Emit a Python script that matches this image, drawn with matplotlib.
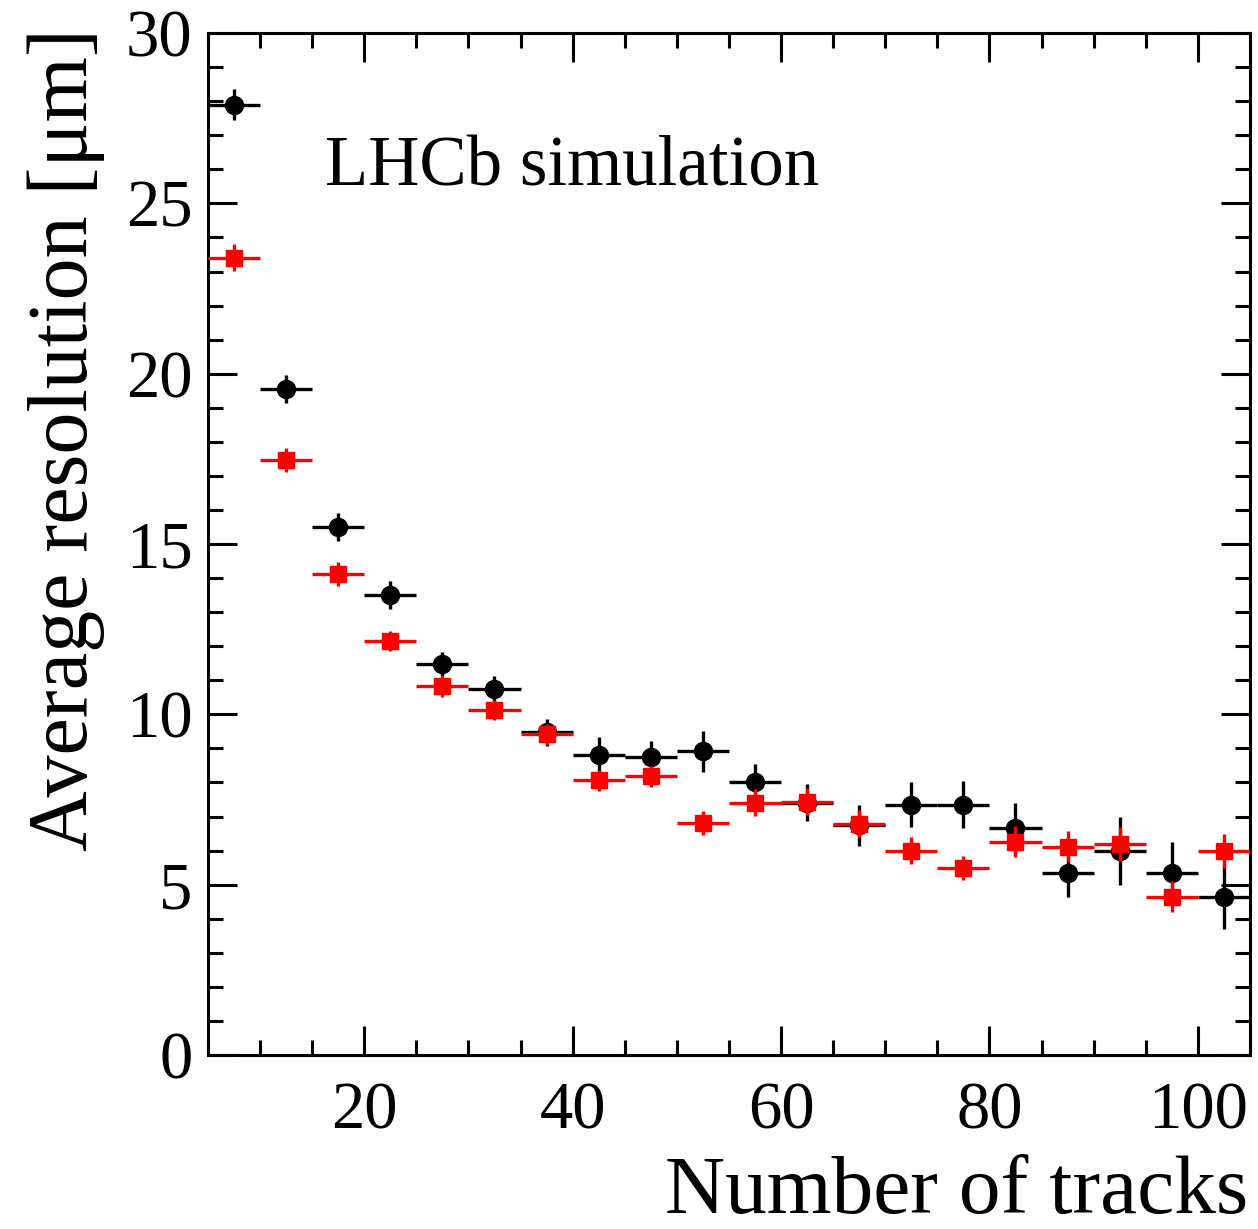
import numpy as np
import matplotlib
matplotlib.use("Agg")
import matplotlib.pyplot as plt
from matplotlib.ticker import MultipleLocator

plt.rcParams['font.family'] = ['Liberation Serif', 'DejaVu Serif']

# bin centres (number of tracks), bin half width 2.5
tracks = [7.5, 12.5, 17.5, 22.5, 27.5, 32.5, 37.5, 42.5, 47.5, 52.5,
          57.5, 62.5, 67.5, 72.5, 77.5, 82.5, 87.5, 92.5, 97.5, 102.5]
half_width = 2.5

# black circles
res_black = [27.9, 19.55, 15.5, 13.5, 11.47, 10.74, 9.47, 8.82, 8.76, 8.91,
             8.0, 7.41, 6.74, 7.35, 7.35, 6.65, 5.35, 6.0, 5.35, 4.65]
err_black = [0.45, 0.4, 0.4, 0.4, 0.35, 0.4, 0.4, 0.5, 0.45, 0.6,
             0.55, 0.55, 0.6, 0.65, 0.7, 0.75, 0.7, 1.0, 0.9, 0.95]

# red squares
res_red = [23.41, 17.47, 14.12, 12.15, 10.82, 10.12, 9.41, 8.06, 8.18, 6.82,
           7.41, 7.44, 6.79, 6.0, 5.5, 6.26, 6.12, 6.18, 4.65, 6.0]
err_red = [0.4, 0.35, 0.35, 0.3, 0.3, 0.3, 0.3, 0.3, 0.3, 0.35,
           0.4, 0.4, 0.4, 0.4, 0.35, 0.45, 0.45, 0.5, 0.45, 0.5]

fig = plt.figure(figsize=(12.58, 12.29), dpi=100)
ax = fig.add_axes([0.1653, 0.1416, 1.0 - 0.1653 - 0.0064, 0.9731 - 0.1416])

ax.errorbar(tracks, res_black, xerr=half_width, yerr=err_black, fmt='o',
            color='black', ms=13, elinewidth=2.4, capsize=0, zorder=3)
ax.errorbar(tracks, res_red, xerr=half_width, yerr=err_red, fmt='s',
            color='#ff0000', ms=12, elinewidth=2.4, capsize=0, zorder=4)

ax.set_xlim(5, 105)
ax.set_ylim(0, 30)
ax.xaxis.set_major_locator(MultipleLocator(20))
ax.xaxis.set_minor_locator(MultipleLocator(5))
ax.yaxis.set_major_locator(MultipleLocator(5))
ax.yaxis.set_minor_locator(MultipleLocator(1))

ax.tick_params(which='both', direction='in', top=True, right=True, width=2.2)
ax.tick_params(which='major', length=21, labelsize=48)
ax.tick_params(which='minor', length=11)
ax.tick_params(axis='x', which='major', pad=19)
ax.tick_params(axis='y', which='major', pad=11)
for sp in ax.spines.values():
    sp.set_linewidth(2.2)

ax.text(0.112, 0.851, 'LHCb simulation', transform=ax.transAxes,
        fontsize=51, va='baseline', ha='left')

fig.text(66 / 1258, 1 - 28 / 1229, 'Average resolution [μm]', rotation=90,
         ha='center', va='top', fontsize=60.5)
fig.text(1248 / 1258, 1 - 1193 / 1229, 'Number of tracks',
         ha='right', va='center', fontsize=60)

fig.savefig('out.png', dpi=100)
